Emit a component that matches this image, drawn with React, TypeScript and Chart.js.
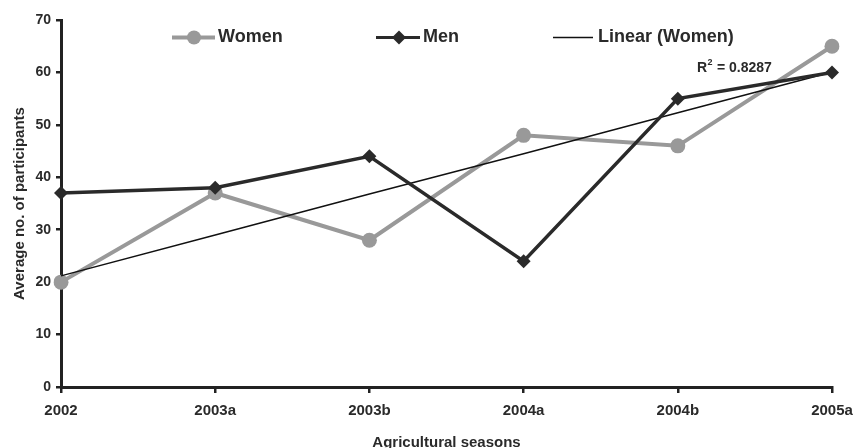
import React, { useEffect, useRef } from "react";
import { Chart, registerables } from "chart.js";

Chart.register(...registerables);

const CATEGORIES = ["2002", "2003a", "2003b", "2004a", "2004b", "2005a"];
const WOMEN = [20, 37, 28, 48, 46, 65];
const MEN = [37, 38, 44, 24, 55, 60];
const LINEAR_WOMEN = [21.2, 29.0, 36.8, 44.5, 52.3, 60.1];
const Y_TICKS = [0, 10, 20, 30, 40, 50, 60, 70];
const R2_TEXT = "0.8287";

const FONT = "'Liberation Sans', Arial, sans-serif";
const WOMEN_COLOR = "#999999";
const MEN_COLOR = "#2a2a2a";
const TEXT_COLOR = "#2a2a2a";

const legendPlugin = {
  id: "customLegend",
  afterDraw(chart: any) {
    const ctx = chart.ctx;
    ctx.save();
    const y = 37.5;
    ctx.lineCap = "butt";
    // Women
    ctx.strokeStyle = WOMEN_COLOR;
    ctx.lineWidth = 4;
    ctx.beginPath();
    ctx.moveTo(172, y);
    ctx.lineTo(215, y);
    ctx.stroke();
    ctx.fillStyle = WOMEN_COLOR;
    ctx.beginPath();
    ctx.arc(194, y, 7, 0, Math.PI * 2);
    ctx.fill();
    // Men
    ctx.strokeStyle = MEN_COLOR;
    ctx.lineWidth = 3;
    ctx.beginPath();
    ctx.moveTo(376, y);
    ctx.lineTo(420, y);
    ctx.stroke();
    ctx.fillStyle = MEN_COLOR;
    ctx.beginPath();
    ctx.moveTo(399, y - 7);
    ctx.lineTo(406, y);
    ctx.lineTo(399, y + 7);
    ctx.lineTo(392, y);
    ctx.closePath();
    ctx.fill();
    // Linear
    ctx.strokeStyle = "#111";
    ctx.lineWidth = 1.5;
    ctx.beginPath();
    ctx.moveTo(553, y);
    ctx.lineTo(593, y);
    ctx.stroke();

    ctx.fillStyle = TEXT_COLOR;
    ctx.font = `bold 18px ${FONT}`;
    ctx.textBaseline = "middle";
    ctx.textAlign = "left";
    ctx.fillText("Women", 218, y);
    ctx.fillText("Men", 423, y);
    ctx.fillText("Linear (Women)", 598, y);

    // R squared
    ctx.font = `bold 14px ${FONT}`;
    let x = 697;
    const ry = 68;
    ctx.fillText("R", x, ry);
    x += ctx.measureText("R").width;
    ctx.font = `bold 9px ${FONT}`;
    ctx.fillText("2", x + 0.5, ry - 5);
    x += ctx.measureText("2").width + 1;
    ctx.font = `bold 14px ${FONT}`;
    ctx.fillText(" = " + R2_TEXT, x, ry);
    ctx.restore();
  },
};

export default function App() {
  const ref = useRef<HTMLCanvasElement>(null);
  useEffect(() => {
    if (!ref.current) return;
    const chart = new Chart(ref.current, {
      type: "line",
      data: {
        labels: CATEGORIES,
        datasets: [
          {
            label: "Men",
            data: MEN,
            borderColor: MEN_COLOR,
            backgroundColor: MEN_COLOR,
            borderWidth: 3.5,
            pointStyle: "rectRot",
            pointRadius: 7,
            pointBorderWidth: 0,
            tension: 0,
            order: 0,
          },
          {
            label: "Linear (Women)",
            data: LINEAR_WOMEN,
            borderColor: "#111",
            backgroundColor: "#111",
            borderWidth: 1.5,
            pointRadius: 0,
            tension: 0,
            order: 1,
          },
          {
            label: "Women",
            data: WOMEN,
            borderColor: WOMEN_COLOR,
            backgroundColor: WOMEN_COLOR,
            borderWidth: 4,
            pointStyle: "circle",
            pointRadius: 7.5,
            pointBorderWidth: 0,
            tension: 0,
            order: 2,
          },
        ],
      },
      options: {
        responsive: false,
        animation: false,
        layout: { padding: { top: 20, right: 21, left: 0, bottom: 0 } },
        plugins: {
          legend: { display: false },
          tooltip: { enabled: false },
        },
        scales: {
          x: {
            type: "category",
            offset: false,
            border: { display: true, color: "#222", width: 3 },
            grid: {
              drawOnChartArea: false,
              drawTicks: true,
              tickLength: 6,
              color: "#222",
              lineWidth: 2.5,
            },
            ticks: {
              color: TEXT_COLOR,
              font: { family: FONT, size: 15, weight: "bold" },
              padding: 9,
              maxRotation: 0,
              autoSkip: false,
            },
            title: {
              display: true,
              text: "Agricultural seasons",
              color: TEXT_COLOR,
              font: { family: FONT, size: 15, weight: "bold", lineHeight: 1 },
              padding: { top: 0, bottom: -2 },
            },
            afterFit(scale: any) {
              scale.height = 61;
              scale.paddingLeft = 0;
              scale.paddingRight = 0;
            },
          },
          y: {
            min: 0,
            max: 70,
            afterBuildTicks(scale: any) {
              scale.ticks = Y_TICKS.map((v) => ({ value: v }));
            },
            border: { display: true, color: "#222", width: 3 },
            grid: {
              drawOnChartArea: false,
              drawTicks: true,
              tickLength: 5,
              color: "#222",
              lineWidth: 2.5,
            },
            ticks: {
              color: TEXT_COLOR,
              font: { family: FONT, size: 14, weight: "bold" },
              padding: 5,
            },
            title: {
              display: true,
              text: "Average no. of participants",
              color: TEXT_COLOR,
              font: { family: FONT, size: 15, weight: "bold", lineHeight: 1.2 },
              padding: { top: 11, bottom: 0 },
            },
            afterFit(scale: any) {
              scale.width = 61;
              scale.paddingTop = 0;
              scale.paddingBottom = 0;
            },
          },
        },
      },
      plugins: [legendPlugin],
    } as any);
    return () => chart.destroy();
  }, []);
  return (
    <div style={{ position: "fixed", left: 0, top: 0, width: 853, height: 448, background: "#fff" }}>
      <canvas ref={ref} width={853} height={448} />
    </div>
  );
}
